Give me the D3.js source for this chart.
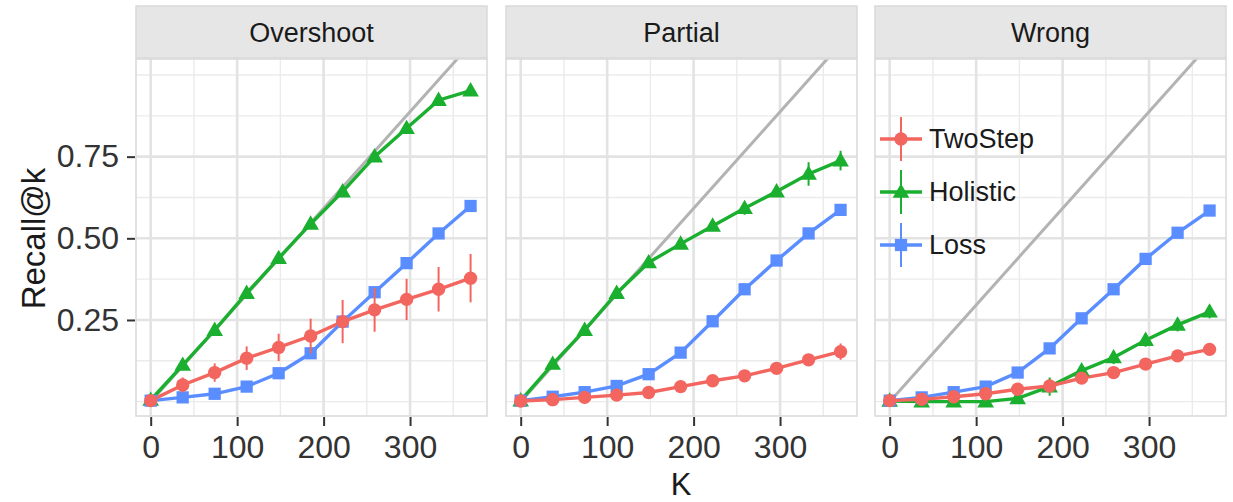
<!DOCTYPE html>
<html>
<head>
<meta charset="utf-8">
<script src="https://cdn.jsdelivr.net/npm/d3@7"></script>
<style>
  body { margin: 0; background: #fff; }
  svg { font-family: "Liberation Sans", Arial, Helvetica, sans-serif; }
</style>
</head>
<body>
<script>
const K = [0, 37, 74, 111, 148, 185, 222, 259, 296, 333, 370];
const PANELS = ["Overshoot", "Partial", "Wrong"];
const METHODS = ["TwoStep", "Holistic", "Loss"];
const COLORS = ["#F2665F", "#1AAF2E", "#5A8DFF"];

const Y_TICKS = [0.25, 0.5, 0.75];
const Y_LABELS = ["0.25", "0.50", "0.75"];
const Y_MINOR = [0, 0.125, 0.375, 0.625, 0.875, 1];
const X_TICKS = [0, 100, 200, 300];
const X_MINOR = [50, 150, 250, 350];

// recall values, panel order: Overshoot, Partial, Wrong
const twoStep = [
  [0.003, 0.051, 0.089, 0.133, 0.166, 0.201, 0.245, 0.281, 0.313, 0.344, 0.378],
  [0.002, 0.006, 0.013, 0.020, 0.028, 0.046, 0.064, 0.079, 0.102, 0.128, 0.153],
  [0.003, 0.007, 0.015, 0.024, 0.038, 0.048, 0.072, 0.089, 0.115, 0.140, 0.160]
];
const twoStepErr = [
  [0, 0.023, 0.028, 0.036, 0.042, 0.053, 0.066, 0.067, 0.063, 0.068, 0.074],
  [0, 0, 0, 0, 0, 0, 0, 0, 0.005, 0.01, 0.025],
  [0, 0, 0, 0, 0, 0, 0, 0, 0, 0, 0]
];
const holistic = [
  [0.005, 0.112, 0.219, 0.332, 0.439, 0.544, 0.643, 0.750, 0.837, 0.923, 0.952],
  [0.003, 0.115, 0.219, 0.332, 0.426, 0.483, 0.538, 0.592, 0.643, 0.697, 0.738],
  [0.002, 0.0, 0.0, 0.0, 0.01, 0.046, 0.095, 0.135, 0.188, 0.235, 0.275]
];
const holisticErr = [
  [0, 0, 0, 0, 0, 0, 0, 0, 0, 0, 0],
  [0, 0, 0, 0, 0, 0, 0.005, 0.02, 0.012, 0.036, 0.03],
  [0, 0, 0, 0, 0, 0.028, 0.01, 0.02, 0.02, 0.02, 0.02]
];
const loss = [
  [0.003, 0.013, 0.024, 0.046, 0.087, 0.148, 0.245, 0.335, 0.424, 0.515, 0.599],
  [0.003, 0.015, 0.029, 0.048, 0.084, 0.150, 0.246, 0.344, 0.432, 0.515, 0.587],
  [0.003, 0.013, 0.029, 0.046, 0.089, 0.163, 0.255, 0.344, 0.437, 0.517, 0.585]
];
const lossErr = [
  [0, 0, 0, 0, 0, 0, 0, 0, 0, 0, 0],
  [0, 0, 0, 0, 0, 0, 0, 0, 0, 0, 0],
  [0, 0, 0, 0, 0, 0, 0, 0, 0, 0, 0]
];
const DIAG_DIV = 338; // reference line y = K / 338

const values = [twoStep, holistic, loss];
const errors = [twoStepErr, holisticErr, lossErr];

const width = 1233,
  height = 502;
const panelLefts = [136, 506, 875];
const panelW = 351;
const stripTop = 6,
  panelTop = 59,
  panelBottom = 416;

const svg = d3
  .select("body")
  .append("svg")
  .attr("width", width)
  .attr("height", height);

const yScale = d3.scaleLinear().domain([-0.044, 1.049]).range([panelBottom, panelTop]);

const symbols = [d3.symbolCircle, d3.symbolTriangle, d3.symbolSquare];
const symbolSizes = [140, 120, 150];

function marker(g, m, x, y) {
  g.append("path")
    .attr("d", d3.symbol(symbols[m], symbolSizes[m])())
    .attr("transform", `translate(${x},${y + (m === 1 ? 1 : 0)})`)
    .attr("fill", COLORS[m]);
}

PANELS.forEach((name, p) => {
  const left = panelLefts[p];
  const xScale = d3.scaleLinear().domain([-17, 389]).range([left, left + panelW]);

  const g = svg.append("g");

  svg
    .append("clipPath")
    .attr("id", `clip${p}`)
    .append("rect")
    .attr("x", left)
    .attr("y", panelTop)
    .attr("width", panelW)
    .attr("height", panelBottom - panelTop);

  // strip
  g.append("rect")
    .attr("x", left)
    .attr("y", stripTop)
    .attr("width", panelW)
    .attr("height", panelTop - stripTop - 1)
    .attr("fill", "#e6e6e6")
    .attr("stroke", "#d9d9d9")
    .attr("stroke-width", 1.5);
  g.append("text")
    .attr("x", left + panelW / 2)
    .attr("y", (stripTop + panelTop) / 2)
    .attr("dy", "0.35em")
    .attr("text-anchor", "middle")
    .attr("font-size", 27)
    .attr("fill", "#1a1a1a")
    .text(name);

  // grid
  const grid = g.append("g");
  Y_MINOR.forEach(v =>
    grid.append("line")
      .attr("x1", left).attr("x2", left + panelW)
      .attr("y1", yScale(v)).attr("y2", yScale(v))
      .attr("stroke", "#ebebeb").attr("stroke-width", 1.4)
  );
  X_MINOR.forEach(v =>
    grid.append("line")
      .attr("x1", xScale(v)).attr("x2", xScale(v))
      .attr("y1", panelTop).attr("y2", panelBottom)
      .attr("stroke", "#ebebeb").attr("stroke-width", 1.4)
  );
  Y_TICKS.forEach(v =>
    grid.append("line")
      .attr("x1", left).attr("x2", left + panelW)
      .attr("y1", yScale(v)).attr("y2", yScale(v))
      .attr("stroke", "#e3e3e3").attr("stroke-width", 2.6)
  );
  X_TICKS.forEach(v =>
    grid.append("line")
      .attr("x1", xScale(v)).attr("x2", xScale(v))
      .attr("y1", panelTop).attr("y2", panelBottom)
      .attr("stroke", "#e3e3e3").attr("stroke-width", 2.6)
  );

  const plot = g.append("g").attr("clip-path", `url(#clip${p})`);

  // diagonal reference
  plot.append("line")
    .attr("x1", xScale(0)).attr("y1", yScale(0))
    .attr("x2", xScale(389)).attr("y2", yScale(389 / DIAG_DIV))
    .attr("stroke", "#b3b3b3")
    .attr("stroke-width", 3);

  const line = d3.line().x(d => xScale(d[0])).y(d => yScale(d[1]));
  const order = [1, 2, 0];
  order.forEach(m => {
    const pts = K.map((k, i) => [k, values[m][p][i]]);
    plot.append("path")
      .attr("d", line(pts))
      .attr("fill", "none")
      .attr("stroke", COLORS[m])
      .attr("stroke-width", 3.4);
  });
  order.forEach(m => {
    K.forEach((k, i) => {
      const v = values[m][p][i],
        e = errors[m][p][i];
      if (e > 0) {
        plot.append("line")
          .attr("x1", xScale(k)).attr("x2", xScale(k))
          .attr("y1", yScale(v - e)).attr("y2", yScale(v + e))
          .attr("stroke", COLORS[m])
          .attr("stroke-width", 2);
      }
      marker(plot, m, xScale(k), yScale(v));
    });
  });

  // border
  g.append("rect")
    .attr("x", left)
    .attr("y", panelTop)
    .attr("width", panelW)
    .attr("height", panelBottom - panelTop)
    .attr("fill", "none")
    .attr("stroke", "#d9d9d9")
    .attr("stroke-width", 1.5);

  // x axis
  const xAxis = d3.axisBottom(xScale).tickValues(X_TICKS).tickSize(9).tickSizeOuter(0).tickPadding(9);
  const xg = g.append("g")
    .attr("transform", `translate(0, ${panelBottom + 1})`)
    .call(xAxis);
  xg.select(".domain").remove();
  xg.selectAll(".tick line").attr("stroke", "#333").attr("stroke-width", 2);
  xg.selectAll(".tick text")
    .attr("font-size", 32)
    .attr("fill", "#333")
    .attr("font-family", null);

  if (p === 0) {
    const yAxis = d3.axisLeft(yScale)
      .tickValues(Y_TICKS)
      .tickFormat((d, i) => Y_LABELS[i])
      .tickSize(8)
      .tickSizeOuter(0)
      .tickPadding(8);
    const yg = g.append("g")
      .attr("transform", `translate(${left - 1}, 0)`)
      .call(yAxis);
    yg.select(".domain").remove();
    yg.selectAll(".tick line").attr("stroke", "#333").attr("stroke-width", 2);
    yg.selectAll(".tick text")
      .attr("font-size", 32)
      .attr("fill", "#333")
      .attr("font-family", null);
  }

  // legend inside last panel
  if (p === 2) {
    const lg = g.append("g");
    const legendY = [139, 192, 245];
    METHODS.forEach((mName, m) => {
      const cy = legendY[m];
      const cx = 901;
      lg.append("line")
        .attr("x1", 880).attr("x2", 922)
        .attr("y1", cy).attr("y2", cy)
        .attr("stroke", COLORS[m]).attr("stroke-width", 3.4);
      lg.append("line")
        .attr("x1", cx).attr("x2", cx)
        .attr("y1", cy - 22).attr("y2", cy + 22)
        .attr("stroke", COLORS[m]).attr("stroke-width", 2);
      marker(lg, m, cx, cy);
      lg.append("text")
        .attr("x", 929)
        .attr("y", cy)
        .attr("dy", "0.35em")
        .attr("font-size", 27)
        .attr("fill", "#1a1a1a")
        .text(mName);
    });
  }
});

// axis titles
svg.append("text")
  .attr("x", 681)
  .attr("y", 495)
  .attr("text-anchor", "middle")
  .attr("font-size", 31)
  .attr("fill", "#1a1a1a")
  .text("K");

svg.append("text")
  .attr("transform", `translate(45, ${(panelTop + panelBottom) / 2 + 1}) rotate(-90)`)
  .attr("text-anchor", "middle")
  .attr("font-size", 33)
  .attr("fill", "#1a1a1a")
  .text("Recall@k");
</script>
</body>
</html>
